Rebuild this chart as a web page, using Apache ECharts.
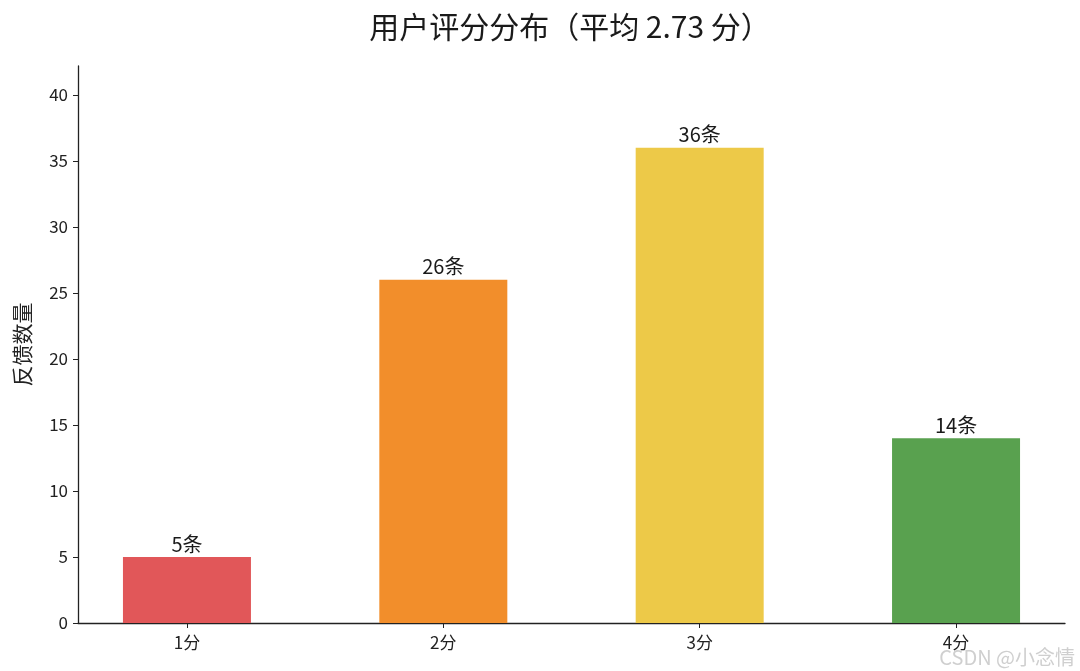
<!DOCTYPE html>
<html><head><meta charset="utf-8">
<script src="https://cdn.jsdelivr.net/npm/echarts@6/dist/echarts.min.js"></script>
<style>html,body{margin:0;padding:0;background:#fff}#c{width:1080px;height:671px}</style>
</head><body><div id="c"></div>
<script>
const categories = ['1分', '2分', '3分', '4分'];
const counts = [5, 26, 36, 14];
const barColors = ['#E15759', '#F28E2B', '#EDC948', '#59A14F'];
const yTicks = [0, 5, 10, 15, 20, 25, 30, 35, 40];
const titleText = '用户评分分布（平均 2.73 分）';
const yName = '反馈数量';

const font = '"Noto Sans CJK SC", "Noto Sans", sans-serif';
const chart = echarts.init(document.getElementById('c'));
chart.setOption({
  backgroundColor: '#fff',
  animation: false,
  title: {
    text: titleText, left: 565, top: 7, textAlign: 'center',
    textStyle: { fontFamily: font, fontSize: 30, fontWeight: 'normal', color: '#1a1a1a' }
  },
  grid: { left: 78, right: 15, top: 66, bottom: 48 },
  xAxis: {
    type: 'value', min: -0.425, max: 3.425,
    splitLine: { show: false },
    axisLine: { show: true, onZero: false, lineStyle: { color: '#222', width: 1.3 } },
    axisTick: { show: true, customValues: categories.map((_, i) => i), length: 5, lineStyle: { color: '#222' } },
    axisLabel: {
      customValues: categories.map((_, i) => i),
      formatter: v => categories[Math.round(v)],
      fontFamily: font, fontSize: 17, color: '#222', margin: 11
    }
  },
  yAxis: {
    type: 'value', min: 0, max: 42.2,
    name: yName, nameLocation: 'middle', nameGap: 45, nameRotate: 90,
    nameTextStyle: { fontFamily: font, fontSize: 21, color: '#222' },
    splitLine: { show: false },
    axisLine: { show: true, onZero: false, lineStyle: { color: '#222', width: 1.3 } },
    axisTick: { show: true, customValues: yTicks, length: 5, lineStyle: { color: '#222' } },
    axisLabel: { customValues: yTicks, fontFamily: font, fontSize: 17, color: '#222', margin: 10 }
  },
  series: [{
    type: 'bar',
    barWidth: 128,
    data: counts.map((v, i) => ({ value: [i, v], itemStyle: { color: barColors[i] } })),
    label: {
      show: true, position: 'top', distance: 3,
      formatter: p => p.value[1] + '条',
      fontFamily: font, fontSize: 20, color: '#1a1a1a'
    }
  }],
  graphic: [{
    type: 'text', right: 5, bottom: 4,
    style: { text: 'CSDN @小念情', fontFamily: font, fontSize: 20, fill: '#cfcfcf' }
  }]
});
</script></body></html>
